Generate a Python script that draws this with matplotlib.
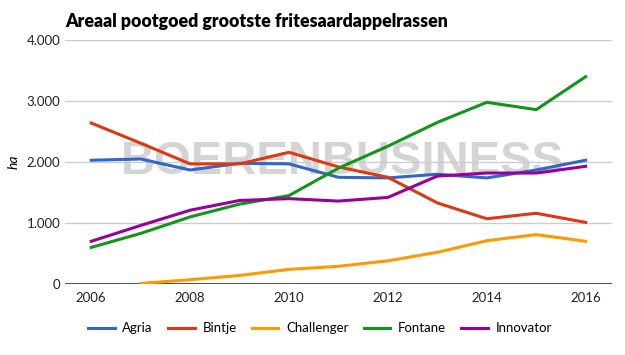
import matplotlib.pyplot as plt
from matplotlib.ticker import FuncFormatter

years = list(range(2006, 2017))
agria = [2030, 2050, 1870, 1980, 1970, 1750, 1740, 1800, 1740, 1870, 2030]
bintje = [2640, 2310, 1970, 1970, 2160, 1920, 1750, 1330, 1070, 1160, 1010]
challenger_years = list(range(2007, 2017))
challenger = [10, 70, 140, 240, 290, 380, 520, 710, 810, 700]
fontane = [600, 830, 1100, 1310, 1450, 1900, 2260, 2650, 2980, 2860, 3400]
innovator = [700, 960, 1210, 1370, 1400, 1360, 1420, 1770, 1820, 1820, 1930]

plt.rcParams['font.family'] = ['Lato', 'DejaVu Sans']

fig = plt.figure(figsize=(6.25, 3.55), dpi=100)
ax = fig.add_axes([0.104, 0.2, 0.875, 0.687])

# watermark
ax.text(0.507, 0.5, 'BOERENBUSINESS', transform=ax.transAxes, ha='center', va='center',
        fontsize=34, fontweight='bold', color='#d4d4d4', zorder=1,
        family='Liberation Sans')

lw = 2.2
ax.plot(years, agria, color='#3366cc', lw=lw, label='Agria', zorder=3)
ax.plot(years, bintje, color='#dc3912', lw=lw, label='Bintje', zorder=3)
ax.plot(challenger_years, challenger, color='#ff9900', lw=lw, label='Challenger', zorder=3)
ax.plot(years, fontane, color='#109618', lw=lw, label='Fontane', zorder=3)
ax.plot(years, innovator, color='#990099', lw=lw, label='Innovator', zorder=3)

ax.set_xlim(2005.47, 2016.53)
ax.set_ylim(0, 4000)
ax.set_yticks([0, 1000, 2000, 3000, 4000])
ax.set_xticks([2006, 2008, 2010, 2012, 2014, 2016])
ax.yaxis.set_major_formatter(FuncFormatter(lambda v, p: f'{int(v):,}'.replace(',', '.')))
ax.grid(True, axis='y', color='#cccccc', lw=1, zorder=0)
ax.axhline(0, color='#333333', lw=1.2, zorder=2)
for s in ax.spines.values():
    s.set_visible(False)
ax.tick_params(length=0, labelsize=9.5, colors='#222222')
ax.tick_params(axis='x', pad=6)
ax.set_ylabel('ha', fontstyle='italic', fontsize=10, labelpad=5)

fig.text(0.104, 0.94, 'Areaal pootgoed grootste fritesaardappelrassen',
         fontsize=12.8, fontweight='heavy', ha='left', va='center')

fig.legend(loc='center', bbox_to_anchor=(0.512, 0.075), ncol=5, frameon=False,
           fontsize=9.5, handlelength=2.0, columnspacing=1.15, handletextpad=0.6)

fig.savefig('out.png', dpi=100)
